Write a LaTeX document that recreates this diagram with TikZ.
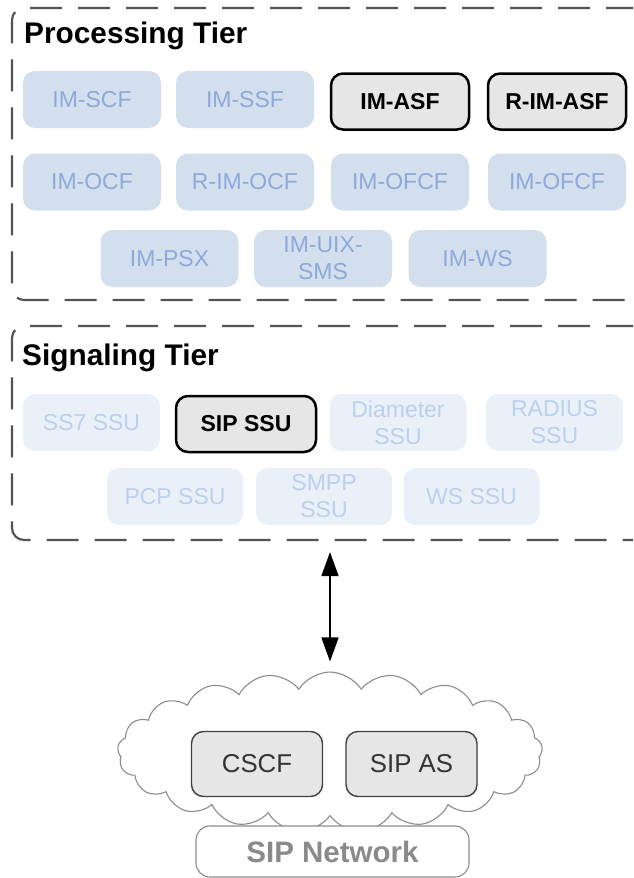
\documentclass[tikz,border=0pt]{standalone}
\usepackage{fontspec}
\setmainfont{Liberation Sans}
\usetikzlibrary{arrows.meta,shapes.symbols}
\definecolor{tierline}{HTML}{555555}
\definecolor{pfill}{HTML}{D4DFEE}
\definecolor{ptext}{HTML}{8CA9DA}
\definecolor{sfill}{HTML}{EAF0F8}
\definecolor{stext}{HTML}{BCCFEE}
\definecolor{hfill}{HTML}{E6E6E6}
\definecolor{cloudline}{HTML}{8C8C8C}
\definecolor{nettext}{HTML}{8A8A8A}
\tikzset{
  tier/.style={draw=tierline, line width=2.2pt, dash pattern=on 32pt off 16pt, rounded corners=12pt, rectangle, inner sep=0pt},
  tiertitle/.style={anchor=base west, inner sep=0pt, font=\fontsize{29.8}{32}\selectfont\bfseries},
  pbox/.style={rectangle, rounded corners=12pt, fill=pfill, text=ptext, inner sep=0pt, minimum width=138pt, minimum height=57pt, align=center, font=\fontsize{23}{27}\selectfont},
  sbox/.style={rectangle, rounded corners=12pt, fill=sfill, text=stext, inner sep=0pt, minimum width=137pt, minimum height=57pt, align=center, font=\fontsize{23}{27}\selectfont},
  hbox/.style={rectangle, rounded corners=12pt, fill=hfill, draw=black, line width=2.5pt, inner sep=0pt, minimum width=138pt, minimum height=56pt, align=center, font=\fontsize{23}{27}\selectfont\bfseries},
  nbox/.style={rectangle, rounded corners=12pt, fill=hfill, draw=black!75, line width=1.4pt, text=black!80, inner sep=0pt, minimum width=131pt, minimum height=65pt, font=\fontsize{25.8}{28}\selectfont},
}
\begin{document}
\begin{tikzpicture}[x=1pt,y=-1pt]
\useasboundingbox (0,0) rectangle (633,878);
\clip (0,0) rectangle (633,878);
\fill[white] (0,0) rectangle (633,878);

% Processing tier
\node[tier, minimum width=638pt, minimum height=292pt] (proc) at (331,154) {};
\node[tiertitle] (proctitle) at (24,43) {Processing Tier};
\node[pbox] (imscf) at (92,99.5) {IM-SCF};
\node[pbox] (imssf) at (245,99.5) {IM-SSF};
\node[hbox] (imasf) at (400,101.5) {IM-ASF};
\node[hbox] (rimasf) at (557,101.5) {R-IM-ASF};
\node[pbox] (imocf) at (92,182) {IM-OCF};
\node[pbox] (rimocf) at (245,182) {R-IM-OCF};
\node[pbox] (imofcfa) at (400,182) {IM-OFCF};
\node[pbox] (imofcfb) at (557,182) {IM-OFCF};
\node[pbox] (impsx) at (169.5,258.5) {IM-PSX};
\node[pbox] (imuix) at (323,258.5) {IM-UIX-\\SMS};
\node[pbox] (imws) at (477.5,258.5) {IM-WS};

% Signaling tier
\node[tier, minimum width=638pt, minimum height=214pt] (sig) at (331,433) {};
\node[tiertitle] (sigtitle) at (22,365) {Signaling Tier};
\node[sbox] (ss7) at (91.5,422.5) {SS7 SSU};
\node[hbox, minimum width=140pt] (sipssu) at (246,424) {SIP SSU};
\node[sbox] (diam) at (398,422.5) {Diameter\\SSU};
\node[sbox] (radius) at (554.5,422.5) {RADIUS\\SSU};
\node[sbox, minimum width=136pt] (pcp) at (175,496.5) {PCP SSU};
\node[sbox, minimum width=136pt] (smpp) at (324,496.5) {SMPP\\SSU};
\node[sbox, minimum width=136pt] (wsssu) at (471.5,496.5) {WS SSU};

% SIP network cloud
\node[cloud, cloud puffs=21, cloud puff arc=115, cloud ignores aspect, draw=cloudline, line width=1.1pt, fill=white, minimum width=425pt, minimum height=160pt, inner sep=0pt] (cloud) at (330,752) {};
\node[nbox] (cscf) at (257,764) {CSCF};
\node[nbox] (sipas) at (411.5,764) {SIP AS};
\node[rectangle, rounded corners=14pt, draw=cloudline, line width=1.1pt, fill=white, minimum width=273pt, minimum height=51pt, inner sep=0pt, text=nettext, font=\fontsize{29.5}{32}\selectfont\bfseries] (sipnet) at (332.5,851.5) {SIP Network};

% connector
\draw[line width=1.5pt, {Triangle[length=24pt,width=17pt]}-{Triangle[length=24pt,width=17pt]}, shorten <=11pt, shorten >=10pt]
  (sig.south -| cloud.north) -- (cloud.north);
\end{tikzpicture}
\end{document}
